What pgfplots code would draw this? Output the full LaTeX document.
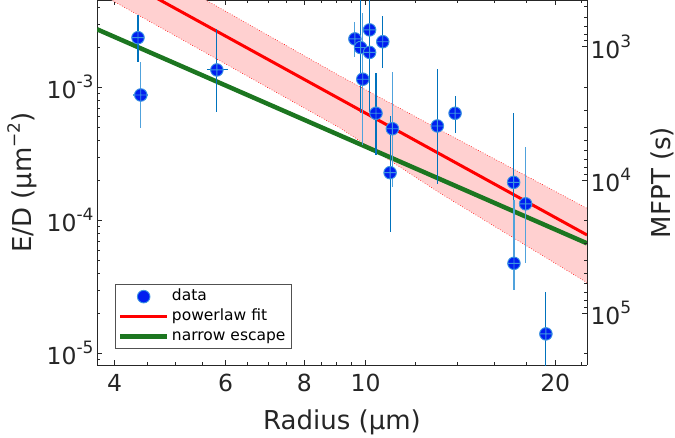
\documentclass[border=0pt]{standalone}
\usepackage{pgfplots}
\pgfplotsset{compat=1.18}
\usepackage{fontspec}
\setmainfont{DejaVu Sans}
\definecolor{ebdark}{RGB}{0,114,189}
\definecolor{eblight}{RGB}{80,162,220}
\definecolor{mkfill}{RGB}{0,30,240}
\definecolor{mkedge}{RGB}{60,150,225}
\definecolor{bandfill}{RGB}{255,208,208}
\definecolor{fitgreen}{RGB}{28,118,32}
\definecolor{spine}{RGB}{38,38,38}
\newcommand\tl[1]{10\raisebox{0.47em}{\fontsize{17}{17}\selectfont#1}}
\pgfplotsset{
  linelegend/.style={legend image code/.code={\draw[##1] (0pt,0pt) -- (47pt,0pt);}},
  datalegend/.style={legend image code/.code={\draw[##1, mark=*] plot coordinates {(23.5pt,0pt)};}},
}

\pgfplotstableread{
x y ep em xp xm
4.355 2.36e-3 1.14e-3 0.802e-3 0 0
5.81 1.35e-3 1.38e-3 6.95e-4 0.23 0.21
9.82 1.99e-3 3.01e-3 1.346e-3 0 0
10.15 2.70e-3 3.3e-3 1.2e-3 0 0
10.15 1.83e-3 0.87e-3 1.18e-3 0 0
10.39 6.38e-4 6.32e-4 3.28e-4 0 0
10.65 2.20e-3 1.24e-3 0.81e-3 0 0
10.94 2.28e-4 3.80e-4 1.46e-4 0 0
13.0 5.12e-4 8.58e-4 3.25e-4 0 0
13.87 6.38e-4 2.22e-4 1.81e-4 0 0
17.18 1.93e-4 4.51e-4 1.332e-4 0 0
19.33 1.40e-5 1.49e-5 0.9e-5 0 0
}\darkdata
\pgfplotstableread{
x y ep em xp xm
4.40 8.75e-4 6.83e-4 3.83e-4 0.12 0.12
9.62 2.31e-3 0.79e-3 0.63e-3 0 0
9.90 1.15e-3 2.45e-3 7.82e-4 0 0
11.03 4.88e-4 8.22e-4 3.11e-4 0 0
17.95 1.33e-4 2.21e-4 0.85e-4 0 0
17.2 4.75e-5 9.45e-5 1.76e-5 0 0
}\lightdata
\pgfplotstableread{
x y
4.355 2.36e-3
4.40 8.75e-4
5.81 1.35e-3
9.62 2.31e-3
9.82 1.99e-3
9.90 1.15e-3
10.15 2.70e-3
10.15 1.83e-3
10.39 6.38e-4
10.65 2.20e-3
10.94 2.28e-4
11.03 4.88e-4
13.0 5.12e-4
13.87 6.38e-4
17.18 1.93e-4
17.95 1.33e-4
17.2 4.75e-5
19.33 1.40e-5
}\alldata

\begin{document}
\begin{tikzpicture}
\path[use as bounding box] (-97pt,-73pt) rectangle (578pt,365pt);
\begin{axis}[
  at={(0,0)}, anchor=south west, scale only axis,
  width=490pt, height=365pt,
  xmode=log, ymode=log,
  xmin=3.75, xmax=22.46, ymin=8.17e-6, ymax=4.53e-3,
  axis x line=box, axis y line*=left,
  xtick={4,6,8,10,20}, xticklabels={4,6,8,10,20},
  minor xtick={4.5,5,5.5,6.5,7,7.5,8.5,9,9.5,12,14,16,18,22},
  ytick={1e-5,1e-4,1e-3}, yticklabels={\tl{-5},\tl{-4},\tl{-3}},
  minor ytick={9e-6,2e-5,3e-5,4e-5,5e-5,6e-5,7e-5,8e-5,9e-5,2e-4,3e-4,4e-4,5e-4,6e-4,7e-4,8e-4,9e-4,2e-3,3e-3,4e-3},
  tick align=inside, major tick length=5pt, minor tick length=3pt,
  every tick/.style={spine, line width=0.6pt},
  axis line style={spine, line width=0.8pt},
  tick label style={font=\fontsize{23.5}{26}\selectfont, text=spine},
  xticklabel shift=6pt,
  label style={font=\fontsize{26}{30}\selectfont, text=spine},
  xlabel={Radius (μm)}, ylabel={E/D (μm\raisebox{0.45em}{\fontsize{17}{17}\selectfont −2})},
  xlabel style={at={(axis description cs:0.5,-0.176)}, anchor=base},
  ylabel style={at={(axis description cs:-0.1333,0.5)}, anchor=base},
  reverse legend,
  legend cell align=left,
  legend style={at={(axis description cs:0.036,0.044)}, anchor=south west,
    draw=spine!80, line width=0.6pt, inner xsep=3pt, inner ysep=4pt,
    font=\fontsize{15.5}{18}\selectfont,
    nodes={inner xsep=2.5pt, inner ysep=0pt, text height=12pt, text depth=4pt},
    row sep=4pt},
]
% confidence band
\addplot[fill=bandfill, draw=none, forget plot] coordinates {
  (3.75,1.35e-2) (5.578,4.53e-3) (9.11,1.216e-3) (13.13,4.78e-4) (22.46,1.23e-4)
  (22.46,3.40e-5) (13.13,1.60e-4) (9.11,4.94e-4) (3.952,4.53e-3) (3.75,5.19e-3)
} --cycle;
\addplot[red, dotted, line width=0.6pt, forget plot] coordinates {
  (3.75,1.35e-2) (5.578,4.53e-3) (9.11,1.216e-3) (13.13,4.78e-4) (22.46,1.23e-4)};
\addplot[red, dotted, line width=0.6pt, forget plot] coordinates {
  (3.75,5.19e-3) (3.952,4.53e-3) (9.11,4.94e-4) (13.13,1.60e-4) (22.46,3.40e-5)};
% narrow escape
\addplot[fitgreen, line width=4.5pt, linelegend] coordinates {(3.75,2.73e-3) (22.46,6.71e-5)};
\addlegendentry{narrow escape}
% powerlaw fit
\addplot[red, line width=3pt, linelegend] coordinates {(3.75,8.25e-3) (22.46,7.76e-5)};
\addlegendentry{powerlaw fit}
% error bars
\addplot[only marks, mark=none, forget plot,
  error bars/.cd, y dir=both, y explicit, x dir=both, x explicit, error mark=none,
  error bar style={draw=ebdark, line width=1.1pt}]
  table[x=x, y=y, y error plus=ep, y error minus=em, x error plus=xp, x error minus=xm] {\darkdata};
\addplot[only marks, mark=none, forget plot,
  error bars/.cd, y dir=both, y explicit, x dir=both, x explicit, error mark=none,
  error bar style={draw=eblight, line width=1.1pt}]
  table[x=x, y=y, y error plus=ep, y error minus=em, x error plus=xp, x error minus=xm] {\lightdata};
% data markers
\addplot[only marks, mark=oplus*, mark size=6.3pt,
  mark options={fill=mkfill, draw=mkedge, line width=0.9pt}, datalegend]
  table[x=x, y=y] {\alldata};
\addlegendentry{data}
\end{axis}
\begin{axis}[
  at={(0,0)}, anchor=south west, scale only axis,
  width=490pt, height=365pt,
  xmode=log, xmin=3.75, xmax=22.46, hide x axis,
  ymode=log, y dir=reverse, ymin=446, ymax=2.44e5,
  axis y line*=right,
  ytick={1e3,1e4,1e5}, yticklabels={\tl{3},\tl{4},\tl{5}},
  minor ytick={500,600,700,800,900,2000,3000,4000,5000,6000,7000,8000,9000,2e4,3e4,4e4,5e4,6e4,7e4,8e4,9e4,2e5},
  tick align=inside, major tick length=5pt, minor tick length=3pt,
  every tick/.style={spine, line width=0.6pt},
  axis line style={spine, line width=0.8pt},
  tick label style={font=\fontsize{23.5}{26}\selectfont, text=spine},
  label style={font=\fontsize{26}{30}\selectfont, text=spine},
  ylabel={MFPT (s)},
  ylabel style={at={(axis description cs:1.1694,0.5)}, anchor=base},
]
\addplot[draw=none, forget plot] coordinates {(5,1000) (10,10000)};
\end{axis}
\end{tikzpicture}
\end{document}
